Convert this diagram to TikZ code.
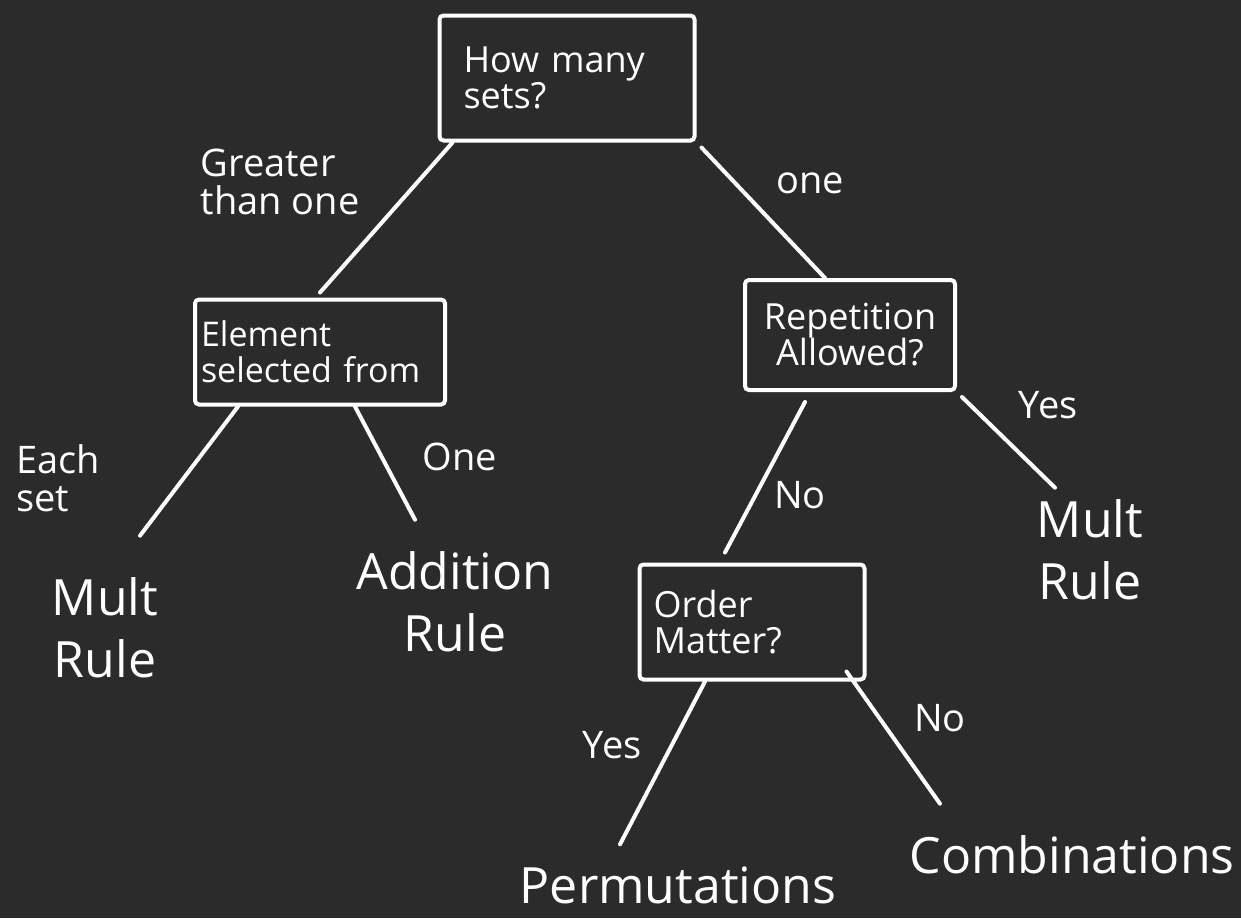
\documentclass[tikz,border=0pt]{standalone}
\usepackage{fontspec}
\setmainfont{Open Sans}
\usetikzlibrary{calc}
\definecolor{bg}{HTML}{2B2B2B}
\tikzset{
  qbox/.style={draw=white, line width=2pt, rounded corners=2pt, text=white, inner sep=2pt,
    font=\fontsize{18}{18}\selectfont},
  leaf/.style={text=white, align=center, font=\fontsize{25}{31}\selectfont},
  lbl/.style={text=white, align=left, font=\fontsize{19}{19}\selectfont},
  edge/.style={draw=white, line width=2pt, line cap=round}
}
\begin{document}
\begin{tikzpicture}[x=0.5pt,y=-0.5pt]
\path[fill=bg,use as bounding box] (0,0) rectangle (1241,918);

\node[qbox, align=left, inner xsep=12pt, text width=103.5pt, minimum height=62.5pt] (top) at (567,78) {How many\\sets?};
\node[qbox, align=left, font=\fontsize{17}{18}\selectfont, inner xsep=3pt, text width=119pt, minimum height=52.5pt] (left) at (320,352) {Element\\selected from};
\node[qbox, align=center, minimum width=105pt, minimum height=55pt] (right) at (850,335) {Repetition\\Allowed?};
\node[qbox, align=left, inner xsep=7pt, text width=98.5pt, minimum height=57.5pt] (order) at (752,622) {Order\\Matter?};

\node[leaf] (multL) at (105,628) {Mult\\Rule};
\node[leaf] (add) at (455,602) {Addition\\Rule};
\node[leaf] (multR) at (1090,550) {Mult\\Rule};
\node[leaf] (perm) at (678,885) {Permutations};
\node[leaf] (comb) at (1072,855) {Combinations};

\node[lbl] (l1) at (280,182) {Greater\\than one};
\node[lbl] (l2) at (810,183) {one};
\node[lbl] (l3) at (58,478) {Each\\set};
\node[lbl] (l4) at (460,457) {One};
\node[lbl] (l5) at (1048,405) {Yes};
\node[lbl] (l6) at (800,495) {No};
\node[lbl] (l7) at (612,745) {Yes};
\node[lbl] (l8) at (940,718) {No};

\draw[edge] ($(top.south west)+(15,0)$) -- ($(left.north)+(0,-5)$);
\draw[edge] ($(top.south east)+(5,5)$) -- ($(right.north)+(-25,0)$);
\draw[edge] ($(left.south west)+(45,0)$) -- ($(multL.north)+(35,-35)$);
\draw[edge] ($(left.south)+(35,0)$) -- ($(add.north)+(-40,-25)$);
\draw[edge] ($(right.south)+(-45,10)$) -- ($(order.north)+(-27,-10)$);
\draw[edge] ($(right.south east)+(5,5)$) -- ($(multR.north)+(-35,-5)$);
\draw[edge] ($(order.south)+(-47,0)$) -- ($(perm.north)+(-58,-15)$);
\draw[edge] ($(order.south east)+(-20,-10)$) -- ($(comb.north)+(-132,-25)$);
\end{tikzpicture}
\end{document}
